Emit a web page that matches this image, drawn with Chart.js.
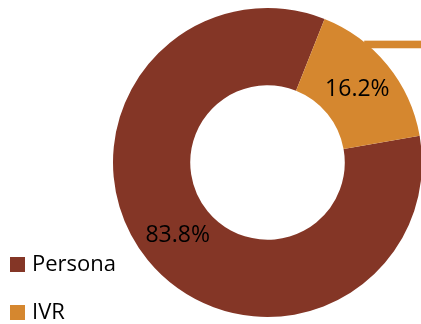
<!DOCTYPE html>
<html>
<head>
<meta charset="utf-8">
<script src="https://cdn.jsdelivr.net/npm/chart.js@4"></script>
<style>
  html, body { margin: 0; padding: 0; background: #fff; overflow: hidden; }
  body { width: 421px; height: 324px; position: relative; font-family: "Open Sans", sans-serif; }
  #wrap { position: absolute; left: 0; top: 0; width: 424px; height: 324px; }
  #legend { position: absolute; left: 10px; top: 0; }
  .item { position: absolute; left: 0; white-space: nowrap; font-size: 22px; color: #000; }
  .box { position: absolute; left: 0; width: 15px; height: 15px; }
  .txt { position: absolute; left: 22px; line-height: 1; }
</style>
</head>
<body>
<div id="wrap"><canvas id="c"></canvas></div>
<div id="legend"></div>
<script>
const categories = ["Persona", "IVR"];
const shares = [83.8, 16.2];
const sliceColors = ["#843626", "#D5872F"];

// Percent labels centred in each ring segment
const sliceLabels = {
  id: "sliceLabels",
  afterDatasetsDraw(chart) {
    const ctx = chart.ctx;
    const meta = chart.getDatasetMeta(0);
    ctx.save();
    ctx.font = '23px "Open Sans", sans-serif';
    ctx.fillStyle = "#000";
    ctx.textAlign = "center";
    ctx.textBaseline = "middle";
    meta.data.forEach((arc, i) => {
      const p = arc.getCenterPoint();
      ctx.fillText(shares[i].toFixed(1) + "%", p.x, p.y);
    });
    ctx.restore();
  }
};

// Leader stroke leaving the small segment toward the right edge
const leader = {
  id: "leader",
  beforeDatasetsDraw(chart) {
    const arc = chart.getDatasetMeta(0).data[1];
    const R = arc.outerRadius;
    const dy = R * 0.764;
    const y = arc.y - dy;
    const x0 = arc.x + Math.sqrt(R * R - dy * dy) - 3;
    const ctx = chart.ctx;
    ctx.save();
    ctx.fillStyle = sliceColors[1];
    ctx.fillRect(x0, y - 3.8, chart.width - x0, 7.6);
    ctx.restore();
  }
};

new Chart(document.getElementById("c"), {
  type: "doughnut",
  data: {
    labels: categories,
    datasets: [{
      data: shares,
      backgroundColor: sliceColors,
      borderWidth: 0,
      hoverOffset: 0
    }]
  },
  options: {
    responsive: true,
    maintainAspectRatio: false,
    animation: false,
    rotation: 80,
    cutout: "50%",
    layout: { padding: { left: 113, top: 8, bottom: 7, right: 2 } },
    plugins: { legend: { display: false }, tooltip: { enabled: false } }
  },
  plugins: [leader, sliceLabels]
});

// Legend rows in the lower-left corner
const legend = document.getElementById("legend");
const rowTops = [257, 305];
categories.forEach((name, i) => {
  const item = document.createElement("div");
  item.className = "item";
  item.style.top = rowTops[i] + "px";
  item.innerHTML = '<div class="box" style="background:' + sliceColors[i] + '"></div>' +
                   '<div class="txt" style="top:-6px">' + name + '</div>';
  legend.appendChild(item);
});
</script>
</body>
</html>
